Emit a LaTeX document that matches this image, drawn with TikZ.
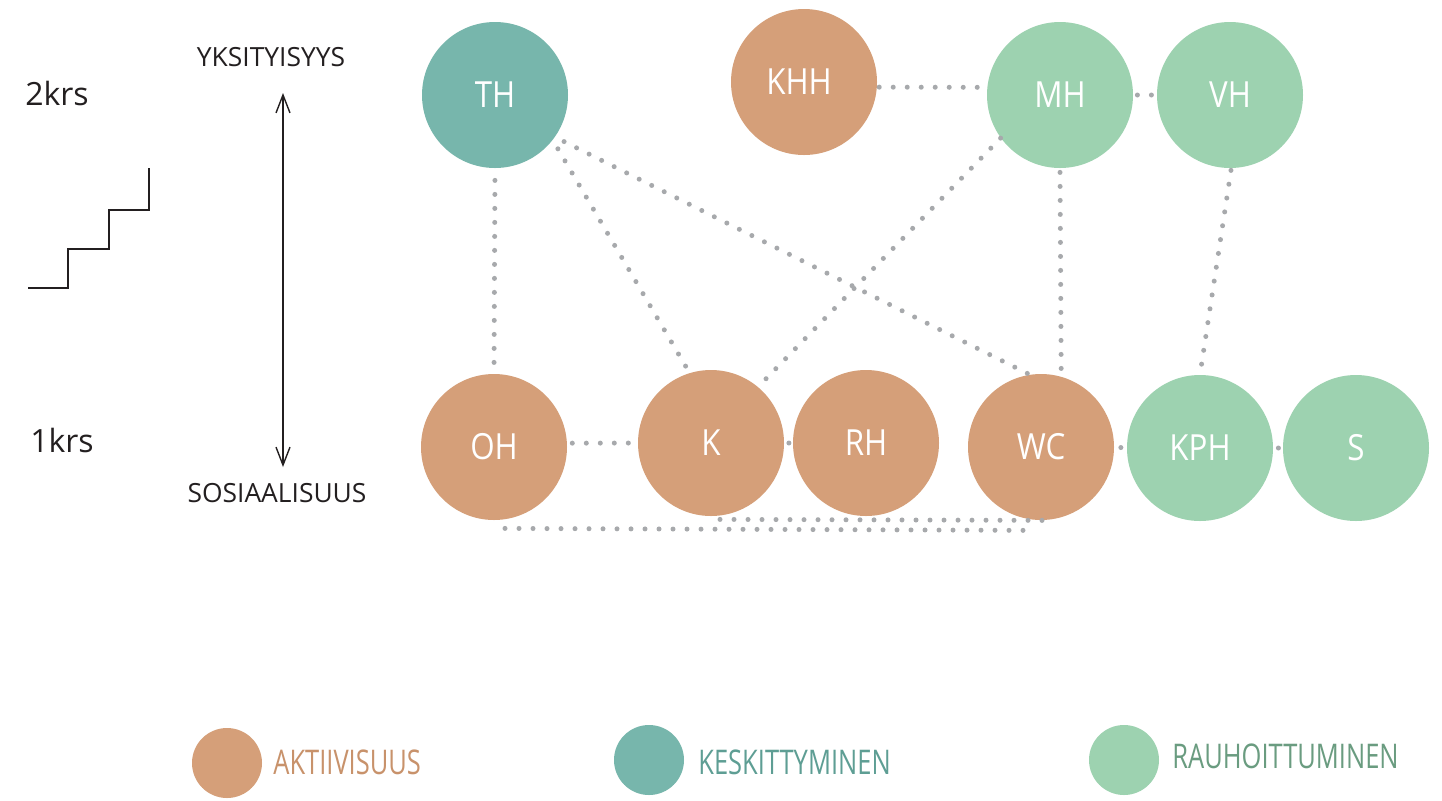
\documentclass[tikz,border=0pt]{standalone}
\usepackage{fontspec}
\setmainfont{Open Sans}
\newfontfamily\legendfont[FakeStretch=0.75]{Open Sans}
\newfontfamily\roomfont[FakeStretch=0.87]{Open Sans}
\usetikzlibrary{arrows.meta,calc}
\definecolor{orng}{HTML}{D59F79}
\definecolor{teal2}{HTML}{77B6AC}
\definecolor{grn}{HTML}{9DD2B0}
\definecolor{dotc}{HTML}{A7A9AC}
\definecolor{orngtxt}{HTML}{C8926B}
\definecolor{tealtxt}{HTML}{5E9E94}
\definecolor{grntxt}{HTML}{6A9C80}
\definecolor{ink}{HTML}{231F20}
\tikzset{
  room/.style={circle, minimum size=73pt, inner sep=0pt, text=white, font=\roomfont\fontsize{18}{21}\selectfont},
  legdot/.style={circle, minimum size=35pt, inner sep=0pt},
  legtxt/.style={anchor=west, inner sep=0pt, font=\legendfont\fontsize{17}{20}\selectfont},
  dotline/.style={draw=dotc, line width=2.5pt, line cap=round, dash pattern=on 0pt off 7pt},
  lbl/.style={text=ink, inner sep=0pt},
}
\begin{document}
\begin{tikzpicture}[x=0.5pt,y=-0.5pt]
\useasboundingbox[fill=white] (0,0) rectangle (1442,800);
% rooms
\node[room, fill=teal2] (TH) at (495,95) {TH};
\node[room, fill=orng] (KHH) at (804,82) {\hspace*{-5pt}KHH};
\node[room, fill=grn] (MH) at (1060,95) {MH};
\node[room, fill=grn] (VH) at (1230,95) {VH};
\node[room, fill=orng] (OH) at (494,447) {OH};
\node[room, fill=orng] (K) at (711,443) {K};
\node[room, fill=orng] (RH) at (866,443) {RH};
\node[room, fill=orng] (WC) at (1041,447) {WC};
\node[room, fill=grn] (KPH) at (1200,448) {KPH};
\node[room, fill=grn] (S) at (1356,448) {S};
% dotted connectors
\draw[dotline, shorten <=1pt] (KHH.-4) -- (MH.174);
\draw[dotline, shorten <=2pt, shorten >=2pt] (MH.east) -- (VH.west);
\draw[dotline, shorten <=6pt] (TH.south) -- (OH.north);
\draw[dotline, shorten <=5pt] (TH.-38) -- (K.107);
\draw[dotline, shorten <=5pt] (TH.-35) -- (WC.99);
\draw[dotline] (MH.216) -- (K.50);
\draw[dotline, shorten <=2pt] (MH.-90) -- (WC.74);
\draw[dotline, shorten <=1pt] (VH.-89) -- (KPH.90);
\draw[dotline, shorten <=2.5pt] (OH.3) -- (K.west);
\draw[dotline, dash pattern=on 0pt off 50pt, shorten <=2.25pt] (K.east) -- (RH.west);
\draw[dotline, dash pattern=on 0pt off 50pt, shorten <=3.25pt] (WC.east) -- (KPH.west);
\draw[dotline, dash pattern=on 0pt off 50pt, shorten <=2.5pt] (KPH.east) -- (S.west);
\draw[dotline] ($(K.south)+(9,3)$) -- ($(WC.south)+(9,0)$);
\draw[dotline] ($(OH.south)+(11,8)$) -- ($(WC.south)+(-6,10)$);
% floors and stairs
\node[lbl, font=\fontsize{16}{19}\selectfont] (f2) at (57,93) {2krs};
\node[lbl, font=\fontsize{16}{19}\selectfont] (f1) at (62,440) {1krs};
\draw[ink, line width=1pt] (28,288) -- (68,288) -- (68,249) -- (109,249) -- (109,210) -- (149,210) -- (149,168);
% axis
\node[lbl, font=\fontsize{13.2}{16}\selectfont] (priv) at (271,57) {YKSITYISYYS};
\node[lbl, font=\fontsize{13.2}{16}\selectfont] (soc) at (277,493) {SOSIAALISUUS};
\coordinate (atop) at (283,93);
\coordinate (abot) at (283,467);
\draw[ink, line width=0.7pt, {Straight Barb[length=9pt,width=7pt]}-{Straight Barb[length=9pt,width=7pt]}] (atop) -- (abot);
% legend
\node[legdot, fill=orng] (l1) at (227,763) {};
\node[legtxt, text=orngtxt] (t1) at (273,762) {AKTIIVISUUS};
\node[legdot, fill=teal2] (l2) at (649,760) {};
\node[legtxt, text=tealtxt] (t2) at (698,762) {KESKITTYMINEN};
\node[legdot, fill=grn] (l3) at (1124,760) {};
\node[legtxt, text=grntxt] (t3) at (1172,756) {RAUHOITTUMINEN};
\end{tikzpicture}
\end{document}
